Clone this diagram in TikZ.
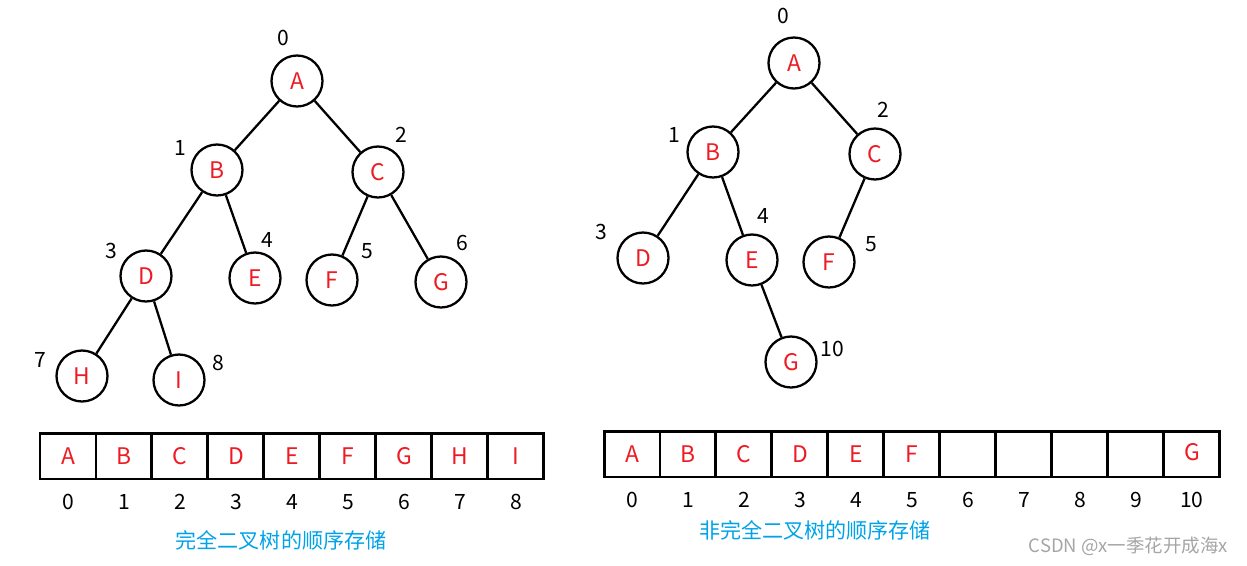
\documentclass[tikz,border=0pt]{standalone}
\usepackage{fontspec}
\setmainfont{Noto Sans CJK SC}
\usepackage{xcolor}
\usepackage{tikz}
\usetikzlibrary{positioning}
\definecolor{nodered}{RGB}{237,28,36}
\definecolor{captionblue}{RGB}{0,162,232}
\definecolor{markgray}{RGB}{165,165,165}

\begin{document}
\begin{tikzpicture}[
    x=0.02cm, y=-0.02cm,
    vertex/.style={circle, draw, line width=1.3pt, minimum size=1.02cm, inner sep=0pt, text=nodered, font=\fontsize{13}{15}\selectfont},
    cell/.style={rectangle, draw, line width=1.7pt, outer sep=0pt, inner sep=0pt, minimum width=1.12cm, minimum height=0.92cm, text=nodered, font=\fontsize{13}{15}\selectfont},
    idx/.style={inner sep=1pt, font=\fontsize{12}{14}\selectfont},
    edge/.style={line width=1.3pt},
    caption/.style={text=captionblue, font=\fontsize{12}{14}\selectfont}
]
\useasboundingbox (0,0) rectangle (1247,565);

% complete binary tree
\node[vertex] (cA) at (297,81) {A};
\node[vertex] (cB) at (217,170) {B};
\node[vertex] (cC) at (378,172) {C};
\node[vertex] (cD) at (146,276) {D};
\node[vertex] (cE) at (255,278) {E};
\node[vertex] (cF) at (332,280) {F};
\node[vertex] (cG) at (441,282) {G};
\node[vertex] (cH) at (82,376) {H};
\node[vertex] (cI) at (179,380) {I};

\node[idx] (cl0) at (283,38) {0};
\node[idx] (cl1) at (180,148) {1};
\node[idx] (cl2) at (401,135) {2};
\node[idx] (cl3) at (111,251) {3};
\node[idx] (cl4) at (267,240) {4};
\node[idx] (cl5) at (367,251) {5};
\node[idx] (cl6) at (462,243) {6};
\node[idx] (cl7) at (40,360) {7};
\node[idx] (cl8) at (218,363) {8};

\draw[edge] (cA) -- (cB);
\draw[edge] (cA) -- (cC);
\draw[edge] (cB) -- (cD);
\draw[edge] (cB) -- (cE);
\draw[edge] (cC) -- (cF);
\draw[edge] (cC) -- (cG);
\draw[edge] (cD) -- (cH);
\draw[edge] (cD) -- (cI);

% incomplete binary tree
\node[vertex] (nA) at (794,63) {A};
\node[vertex] (nB) at (713,152) {B};
\node[vertex] (nC) at (875,154) {C};
\node[vertex] (nD) at (643,258) {D};
\node[vertex] (nE) at (752,260) {E};
\node[vertex] (nF) at (829,262) {F};
\node[vertex] (nG) at (791,362) {G};

\node[idx] (nl0) at (783,16) {0};
\node[idx] (nl1) at (674,135) {1};
\node[idx] (nl2) at (883,110) {2};
\node[idx] (nl3) at (601,232) {3};
\node[idx] (nl4) at (763,216) {4};
\node[idx] (nl5) at (871,244) {5};
\node[idx] (nl10) at (832,349) {10};

\draw[edge] (nA) -- (nB);
\draw[edge] (nA) -- (nC);
\draw[edge] (nB) -- (nD);
\draw[edge] (nB) -- (nE);
\draw[edge] (nC) -- (nF);
\draw[edge] (nE) -- (nG);

% array of the complete tree
\node[cell] (ca0) at (68,456) {A};
\node[cell, right=0pt of ca0] (ca1) {B};
\node[cell, right=0pt of ca1] (ca2) {C};
\node[cell, right=0pt of ca2] (ca3) {\raisebox{-2pt}{D}};
\node[cell, right=0pt of ca3] (ca4) {E};
\node[cell, right=0pt of ca4] (ca5) {F};
\node[cell, right=0pt of ca5] (ca6) {G};
\node[cell, right=0pt of ca6] (ca7) {H};
\node[cell, right=0pt of ca7] (ca8) {I};

\node[idx] (ci0) at ([yshift=-0.92cm]ca0.center) {0};
\node[idx] (ci1) at ([yshift=-0.92cm]ca1.center) {1};
\node[idx] (ci2) at ([yshift=-0.92cm]ca2.center) {2};
\node[idx] (ci3) at ([yshift=-0.92cm]ca3.center) {3};
\node[idx] (ci4) at ([yshift=-0.92cm]ca4.center) {4};
\node[idx] (ci5) at ([yshift=-0.92cm]ca5.center) {5};
\node[idx] (ci6) at ([yshift=-0.92cm]ca6.center) {6};
\node[idx] (ci7) at ([yshift=-0.92cm]ca7.center) {7};
\node[idx] (ci8) at ([yshift=-0.92cm]ca8.center) {8};

\node[caption] (ccap) at (281,540) {完全二叉树的顺序存储};

% array of the incomplete tree
\node[cell] (na0) at (632,454) {A};
\node[cell, right=0pt of na0] (na1) {\raisebox{-3pt}{B}};
\node[cell, right=0pt of na1] (na2) {C};
\node[cell, right=0pt of na2] (na3) {D};
\node[cell, right=0pt of na3] (na4) {\raisebox{-3pt}{E}};
\node[cell, right=0pt of na4] (na5) {F};
\node[cell, right=0pt of na5] (na6) {};
\node[cell, right=0pt of na6] (na7) {};
\node[cell, right=0pt of na7] (na8) {};
\node[cell, right=0pt of na8] (na9) {};
\node[cell, right=0pt of na9] (na10) {\raisebox{2pt}{G}};

\node[idx] (ni0) at ([yshift=-0.92cm]na0.center) {0};
\node[idx] (ni1) at ([yshift=-0.92cm]na1.center) {1};
\node[idx] (ni2) at ([yshift=-0.92cm]na2.center) {2};
\node[idx] (ni3) at ([yshift=-0.92cm]na3.center) {3};
\node[idx] (ni4) at ([yshift=-0.92cm]na4.center) {4};
\node[idx] (ni5) at ([yshift=-0.92cm]na5.center) {5};
\node[idx] (ni6) at ([yshift=-0.92cm]na6.center) {6};
\node[idx] (ni7) at ([yshift=-0.92cm]na7.center) {7};
\node[idx] (ni8) at ([yshift=-0.92cm]na8.center) {8};
\node[idx] (ni9) at ([yshift=-0.92cm]na9.center) {9};
\node[idx] (ni10) at ([yshift=-0.92cm]na10.center) {10};

\node[caption] (ncap) at (815,530) {非完全二叉树的顺序存储};

\node[text=markgray, font=\fontsize{10.5}{12}\selectfont, anchor=east] (mark) at (1234,546) {CSDN @x一季花开成海x};
\end{tikzpicture}
\end{document}
